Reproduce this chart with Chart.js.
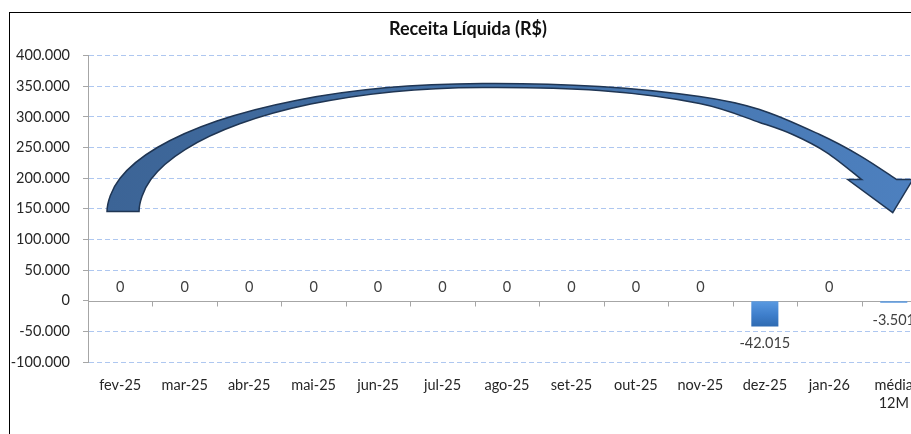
<!DOCTYPE html>
<html lang="pt-BR">
<head>
<meta charset="utf-8">
<title>Receita Líquida (R$)</title>
<script src="https://cdn.jsdelivr.net/npm/chart.js@4/dist/chart.umd.min.js"></script>
<style>
  html, body { margin: 0; padding: 0; background: #fff; overflow: hidden; width: 911px; height: 434px; }
  #box { position: absolute; left: 9px; top: 12px; width: 940px; height: 440px; border: 1.5px solid #000; background: #fff; }
  #box canvas { display: block; }
</style>
</head>
<body>
<div id="box"><canvas id="grafico" width="940" height="440"></canvas></div>
<script>
// === DADOS ===
const categorias = ["fev-25", "mar-25", "abr-25", "mai-25", "jun-25", "jul-25", "ago-25",
  "set-25", "out-25", "nov-25", "dez-25", "jan-26", ["média", "12M"]];
const receitaLiquida = [0, 0, 0, 0, 0, 0, 0, 0, 0, 0, -42015, 0, -3501];
const eixoY = { min: -100000, max: 400000, passo: 50000 };

// seta decorativa (em unidades do gráfico: índice da categoria, valor)
const setaExterna = [[-0.205, 145400], [-0.006, 199500], [0.575, 250000], [1.5, 293300],
  [2.707, 326500], [4.11, 347400], [5.618, 354600], [7.435, 349700], [8.988, 333300],
  [9.919, 312100], [10.851, 271200], [11.472, 236900], [12.047, 197700]];
const setaPonta = [[12.295, 197700], [11.984, 143800], [11.286, 197700], [11.503, 197700]];
const setaInterna = [[11.503, 197700], [10.96, 241800], [10.432, 271200], [9.919, 290900],
  [8.988, 321900], [7.435, 343100], [5.618, 348000], [4.239, 341200], [2.955, 320900],
  [1.852, 288700], [1.006, 246700], [0.474, 197900], [0.292, 145400]];

const FONTE = "Lato, 'Open Sans', sans-serif";

function formatBR(v) {
  const s = Math.abs(Math.round(v)).toString().replace(/\B(?=(\d{3})+(?!\d))/g, ".");
  return (v < 0 ? "-" : "") + s;
}

// curva suave passando pelos pontos (catmull-rom)
// vertIni / vertFim: força tangente vertical na ponta (base da seta)
function curva(ctx, pts, inicio, vertIni, vertFim) {
  if (inicio) ctx.moveTo(pts[0].x, pts[0].y); else ctx.lineTo(pts[0].x, pts[0].y);
  const n = pts.length;
  for (let i = 0; i < n - 1; i++) {
    const p1 = pts[i], p2 = pts[i + 1];
    let p0 = pts[i - 1] || p1;
    let p3 = pts[i + 2] || p2;
    if (i === 0 && vertIni) p0 = { x: p2.x, y: p1.y + (p1.y - p2.y) * 0.6 };
    if (i === n - 2 && vertFim) p3 = { x: p1.x, y: p2.y + (p2.y - p1.y) * 0.6 };
    ctx.bezierCurveTo(p1.x + (p2.x - p0.x) / 6, p1.y + (p2.y - p0.y) / 6,
      p2.x - (p3.x - p1.x) / 6, p2.y - (p3.y - p1.y) / 6, p2.x, p2.y);
  }
}

// === PLUGIN: linha do zero, marcas, rótulos e seta ===
const pluginDecoracao = {
  id: "decoracao",
  beforeDatasetsDraw(chart) {
    const { ctx, scales: { x, y } } = chart;
    const y0 = Math.round(y.getPixelForValue(0)) + 0.5;
    ctx.save();
    ctx.strokeStyle = "#a6a6a6";
    ctx.lineWidth = 1;
    ctx.beginPath();
    ctx.moveTo(chart.chartArea.left, y0);
    ctx.lineTo(chart.chartArea.right, y0);
    for (let i = 0; i < categorias.length; i++) {
      const xt = Math.round(x.getPixelForValue(i + 0.5)) + 0.5;
      ctx.moveTo(xt, y0);
      ctx.lineTo(xt, y0 + 5);
    }
    ctx.stroke();
    ctx.restore();
  },
  afterDatasetsDraw(chart) {
    const { ctx, scales: { x, y } } = chart;
    const px = p => ({ x: x.getPixelForValue(p[0]), y: y.getPixelForValue(p[1]) });

    // rótulos de dados
    const meta = chart.getDatasetMeta(0);
    ctx.save();
    ctx.font = "14.5px " + FONTE;
    ctx.fillStyle = "#404040";
    ctx.textAlign = "center";
    ctx.textBaseline = "middle";
    meta.data.forEach((bar, i) => {
      const v = receitaLiquida[i];
      const yy = v < 0 ? bar.y + 17 : bar.y - 13;
      ctx.fillText(formatBR(v), bar.x, yy);
    });
    ctx.restore();

    // seta curva
    const ext = setaExterna.map(px), ponta = setaPonta.map(px), int = setaInterna.map(px);
    ctx.save();
    ctx.beginPath();
    curva(ctx, ext, true, true, false);
    ponta.forEach(p => ctx.lineTo(p.x, p.y));
    curva(ctx, int, false, false, true);
    ctx.closePath();
    const g = ctx.createLinearGradient(ext[0].x, 0, ponta[0].x, 0);
    g.addColorStop(0, "#3c6496");
    g.addColorStop(0.5, "#4472a8");
    g.addColorStop(1, "#4d80bf");
    ctx.fillStyle = g;
    ctx.fill();
    ctx.strokeStyle = "#1f3553";
    ctx.lineWidth = 1.5;
    ctx.lineJoin = "miter";
    ctx.stroke();
    ctx.restore();
  }
};

const ticksY = [];
for (let v = eixoY.min; v <= eixoY.max; v += eixoY.passo) ticksY.push(v);

new Chart(document.getElementById("grafico").getContext("2d"), {
  type: "bar",
  data: {
    labels: categorias,
    datasets: [{
      label: "Receita Líquida (R$)",
      data: receitaLiquida,
      backgroundColor: (c) => {
        const area = c.chart.chartArea;
        if (!area) return "#3f7cc4";
        const ys = c.chart.scales.y;
        const g = c.chart.ctx.createLinearGradient(0, ys.getPixelForValue(0), 0, ys.getPixelForValue(-45000));
        g.addColorStop(0, "#5b9be2");
        g.addColorStop(0.5, "#3f7fcc");
        g.addColorStop(1, "#2c67ad");
        return g;
      },
      borderWidth: 0,
      categoryPercentage: 1,
      barPercentage: 0.42
    }]
  },
  options: {
    responsive: false,
    animation: false,
    layout: { padding: { left: 0, right: 24, top: 0, bottom: 0 } },
    plugins: {
      legend: { display: false },
      tooltip: { enabled: false },
      title: {
        display: true,
        text: "Receita Líquida (R$)",
        color: "#111",
        font: { family: FONTE, size: 18, weight: "bold" },
        padding: { top: 5, bottom: 16 }
      }
    },
    scales: {
      x: {
        grid: { display: false, drawTicks: false },
        border: { display: false },
        ticks: { color: "#262626", padding: 15, maxRotation: 0, autoSkip: false, font: { family: FONTE, size: 14.5 } },
        afterFit: s => { s.height = 91; }
      },
      y: {
        min: eixoY.min,
        max: eixoY.max,
        afterBuildTicks: s => { s.ticks = ticksY.map(v => ({ value: v })); },
        grid: {
          color: c => (c.tick && c.tick.value === 0) ? "rgba(0,0,0,0)" : "#aec7f0",
          tickColor: "#a6a6a6",
          tickLength: 5,
          lineWidth: 1
        },
        border: { display: true, color: "#a6a6a6", width: 1, dash: [5, 3] },
        ticks: {
          color: "#262626",
          padding: 13,
          font: { family: FONTE, size: 14.5 },
          callback: v => formatBR(v)
        },
        afterFit: s => { s.width = 78; }
      }
    }
  },
  plugins: [pluginDecoracao]
});
</script>
</body>
</html>
